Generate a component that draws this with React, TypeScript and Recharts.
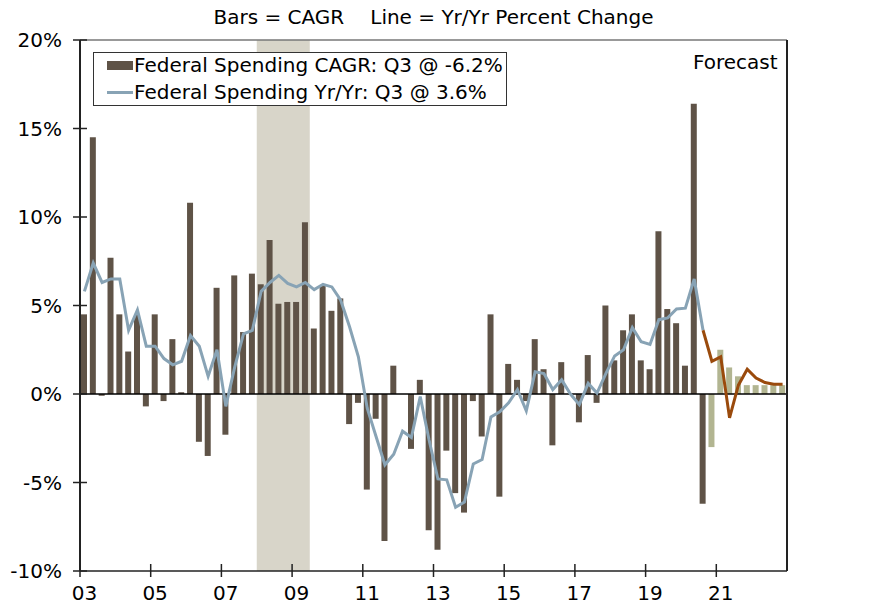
import React from "react";
import {
  ComposedChart,
  Bar,
  Line,
  XAxis,
  YAxis,
  Cell,
  ReferenceArea,
  ReferenceLine,
} from "recharts";

const YEARS = ["03", "04", "05", "06", "07", "08", "09", "10", "11", "12", "13", "14", "15", "16", "17", "18", "19", "20", "21", "22"];
const QUARTERS = YEARS.flatMap((y) => [`${y}Q1`, `${y}Q2`, `${y}Q3`, `${y}Q4`]);

const X_TICK_LABELS = ["03", "05", "07", "09", "11", "13", "15", "17", "19", "21"];
const Y_TICKS = [-10, -5, 0, 5, 10, 15, 20];

// quarterly CAGR (bars)
const CAGR = [
  4.5, 14.5, -0.1, 7.7, 4.5, 2.4, 4.5, -0.7, 4.5, -0.4, 3.1, 0.1, 10.8, -2.7, -3.5, 6.0,
  -2.3, 6.7, 3.5, 6.8, 6.2, 8.7, 5.1, 5.2, 5.2, 9.7, 3.7, 6.1, 4.7, 5.4, -1.7, -0.5,
  -5.4, -1.4, -8.3, 1.6, 0.0, -3.1, 0.8, -7.7, -8.8, -3.2, -5.6, -6.7, -0.4, -2.4, 4.5, -5.8,
  1.7, 0.8, -0.4, 3.1, 1.4, -2.9, 1.8, 0.0, -1.6, 2.2, -0.5, 5.0, 1.9, 3.6, 4.5, 1.9,
  1.4, 9.2, 4.8, 4.0, 1.6, 16.4, -6.2, -3.0, 2.5, 1.5, 1.0, 0.5, 0.5, 0.5, 0.5, 0.5,
];

// year over year (line)
const YOY = [
  5.8, 7.4, 6.3, 6.5, 6.5, 3.6, 4.75, 2.7, 2.7, 2.0, 1.65, 1.85, 3.3, 2.7, 1.0, 2.5,
  -0.7, 1.5, 3.4, 3.6, 5.8, 6.3, 6.7, 6.25, 6.05, 6.3, 5.9, 6.2, 6.05, 5.3, 3.8, 2.1,
  -0.8, -2.4, -4.0, -3.4, -2.1, -2.45, -0.15, -2.6, -4.8, -4.85, -6.4, -6.1, -3.95, -3.7, -1.3, -1.0,
  -0.5, 0.25, -0.95, 1.25, 1.15, 0.25, 0.8, 0.0, -0.6, 0.6, 0.05, 1.15, 2.15, 2.5, 3.75, 2.95,
  2.8, 4.2, 4.3, 4.8, 4.85, 6.5, 3.6, 1.85, 2.1, -1.35, 0.5, 1.4, 0.9, 0.65, 0.55, 0.55,
];

const LAST_ACTUAL = "20Q3";
const RECESSION = ["08Q1", "09Q2"];

const WIDTH = 872;
const HEIGHT = 605;
const LEFT_W = 80;
const RIGHT_W = 85;
const TOP = 40;
const BOTTOM_H = 34;
const BAND = (WIDTH - LEFT_W - RIGHT_W) / QUARTERS.length;

const FONT = "'DejaVu Sans', Verdana, sans-serif";
const FS = 20;
const BAR = "#5f5347";
const BAR_F = "#b2b591";
const LINE = "#88a3b5";
const LINE_F = "#9a4a0c";
const SHADE = "#d8d5c9";
const AXIS = "#222";

const lastIdx = QUARTERS.indexOf(LAST_ACTUAL);
const data = QUARTERS.map((q, i) => ({
  q,
  cagr: CAGR[i],
  yoy: i <= lastIdx ? YOY[i] : null,
  yoyF: i >= lastIdx ? YOY[i] : null,
}));

const LeftTick = (props: any) => {
  const { x, y, payload } = props;
  return (
    <g>
      <line x1={x - 7} x2={x + 7} y1={y} y2={y} stroke={AXIS} strokeWidth={1.5} />
      <text x={x - 18} y={y} dy={7} textAnchor="end" fontSize={FS} fontFamily={FONT} fill="#000">
        {payload.value}%
      </text>
    </g>
  );
};

const RightTick = (props: any) => {
  const { x, y, payload } = props;
  return (
    <g>
      <line x1={x - 7} x2={x + 7} y1={y} y2={y} stroke={AXIS} strokeWidth={1.5} />
      <text x={x + 18} y={y} dy={7} textAnchor="start" fontSize={FS} fontFamily={FONT} fill="#000">
        {payload.value}%
      </text>
    </g>
  );
};

const BottomTick = (props: any) => {
  const { x, y, payload } = props;
  const tx = x - BAND / 2;
  return (
    <g>
      <line x1={tx} x2={tx} y1={y - 7} y2={y + 6} stroke={AXIS} strokeWidth={1.5} />
      <text x={x} y={y + 29} textAnchor="middle" fontSize={FS} fontFamily={FONT} fill="#000">
        {String(payload.value).slice(0, 2)}
      </text>
    </g>
  );
};

export default function App() {
  return (
    <div style={{ position: "absolute", left: 0, top: 0, width: WIDTH, height: HEIGHT, background: "#fff", fontFamily: FONT }}>
      <div
        style={{
          position: "absolute",
          top: 5,
          left: LEFT_W,
          width: WIDTH - LEFT_W - RIGHT_W,
          textAlign: "center",
          fontSize: FS,
          whiteSpace: "pre",
          color: "#000",
        }}
      >
        <span>Bars = CAGR</span>
        <span style={{ marginLeft: 26 }}>Line = Yr/Yr Percent Change</span>
      </div>
      <ComposedChart
        width={WIDTH}
        height={HEIGHT}
        data={data}
        margin={{ top: TOP, right: 0, bottom: 0, left: 0 }}
        barCategoryGap={0}
      >
        <ReferenceArea
          yAxisId="left"
          x1={RECESSION[0]}
          x2={RECESSION[1]}
          y1={-10}
          y2={20}
          fill={SHADE}
          fillOpacity={1}
          stroke="none"
        />
        <XAxis
          dataKey="q"
          height={BOTTOM_H}
          ticks={X_TICK_LABELS.map((y) => `${y}Q1`)}
          interval={0}
          tickSize={0}
          tickMargin={0}
          tick={<BottomTick />}
          axisLine={{ stroke: AXIS, strokeWidth: 1.5 }}
        />
        <YAxis
          yAxisId="left"
          width={LEFT_W}
          domain={[-10, 20]}
          ticks={Y_TICKS}
          interval={0}
          tickSize={0}
          tickMargin={0}
          tick={<LeftTick />}
          axisLine={{ stroke: AXIS, strokeWidth: 2 }}
        />
        <YAxis
          yAxisId="right"
          orientation="right"
          width={RIGHT_W}
          domain={[-10, 20]}
          ticks={Y_TICKS}
          interval={0}
          tickSize={0}
          tickMargin={0}
          tick={<RightTick />}
          axisLine={{ stroke: AXIS, strokeWidth: 2 }}
        />
        <ReferenceLine yAxisId="left" y={20} stroke="#777" strokeWidth={1.5} />
        <Bar yAxisId="left" dataKey="cagr" barSize={6} isAnimationActive={false}>
          {data.map((d, i) => (
            <Cell key={d.q} fill={i > lastIdx ? BAR_F : BAR} />
          ))}
        </Bar>
        <ReferenceLine yAxisId="left" y={0} stroke="#000" strokeWidth={1.5} />
        <Line
          yAxisId="left"
          dataKey="yoy"
          type="linear"
          stroke={LINE}
          strokeWidth={3}
          dot={false}
          isAnimationActive={false}
        />
        <Line
          yAxisId="left"
          dataKey="yoyF"
          type="linear"
          stroke={LINE_F}
          strokeWidth={3}
          dot={false}
          isAnimationActive={false}
        />
      </ComposedChart>
      <div
        style={{
          position: "absolute",
          left: 93,
          top: 52,
          width: 414,
          height: 54,
          border: "1px solid #333",
          background: "#fff",
          fontSize: FS,
          color: "#000",
          boxSizing: "border-box",
        }}
      >
        <div style={{ position: "absolute", left: 13, top: 0, display: "flex", alignItems: "center", whiteSpace: "nowrap" }}>
          <span style={{ display: "inline-block", width: 26, height: 9, background: BAR, marginRight: 1 }} />
          Federal Spending CAGR: Q3 @ -6.2%
        </div>
        <div style={{ position: "absolute", left: 13, top: 27, display: "flex", alignItems: "center", whiteSpace: "nowrap" }}>
          <span style={{ display: "inline-block", width: 26, height: 3, background: LINE, marginRight: 1 }} />
          Federal Spending Yr/Yr: Q3 @ 3.6%
        </div>
      </div>
      <div style={{ position: "absolute", left: 693, top: 50, fontSize: FS, color: "#000", whiteSpace: "nowrap" }}>
        Forecast
      </div>
    </div>
  );
}
